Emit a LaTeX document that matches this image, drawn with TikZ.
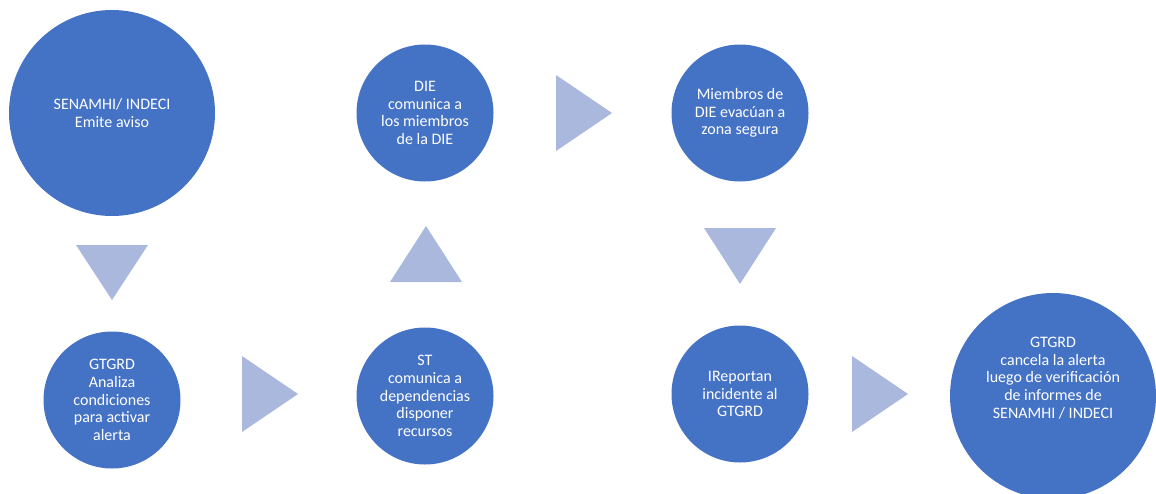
\documentclass[tikz,border=0pt]{standalone}
\usepackage{fontspec}
\setmainfont{Carlito}
\definecolor{bub}{HTML}{4472C4}
\definecolor{tri}{HTML}{ABB8DE}
\begin{document}
\begin{tikzpicture}[x=1pt,y=-1pt,
  bubble/.style={circle,fill=bub,draw=none,inner sep=0pt,text=white,align=center,
     font=\fontsize{16}{17.6}\selectfont},
  txt/.style={text=white,align=center,font=\fontsize{16}{17.6}\selectfont},
  arr/.style={fill=tri,draw=none}]
\useasboundingbox (0,0) rectangle (1156,493);
\node[bubble,minimum size=206pt] (a) at (112,113) {SENAMHI/ INDECI\\Emite aviso};
\node[bubble,minimum size=137pt] (b) at (112,400) {GTGRD\\Analiza\\condiciones\\para activar\\alerta};
\node[bubble,minimum size=137pt] (c) at (425,396) {ST\\comunica a\\dependencias\\disponer\\recursos};
\node[bubble,minimum size=137pt] (d) at (425,113) {DIE\\comunica a\\los miembros\\de la DIE};
\node[bubble,minimum size=137pt] (e) at (740,113) {Miembros de\\DIE evacúan a\\zona segura};
\node[bubble,minimum size=137pt] (f) at (740,394) {IReportan\\incidente al\\GTGRD};
\node[bubble,minimum size=206pt] (g) at (1053,396) {};
\node[txt] (gt) at (1053,378) {GTGRD\\cancela la alerta\\luego de verificación\\de informes de\\SENAMHI / INDECI};
% arrows (triangles)
\fill[arr] (76,245) -- (148,245) -- (112,300) -- cycle;
\fill[arr] (242,356) -- (298,394) -- (242,432) -- cycle;
\fill[arr] (390,282) -- (426,226) -- (462,282) -- cycle;
\fill[arr] (556,75) -- (612,113) -- (556,151) -- cycle;
\fill[arr] (704,228) -- (776,228) -- (740,284) -- cycle;
\fill[arr] (852,356) -- (908,394) -- (852,432) -- cycle;
\end{tikzpicture}
\end{document}
